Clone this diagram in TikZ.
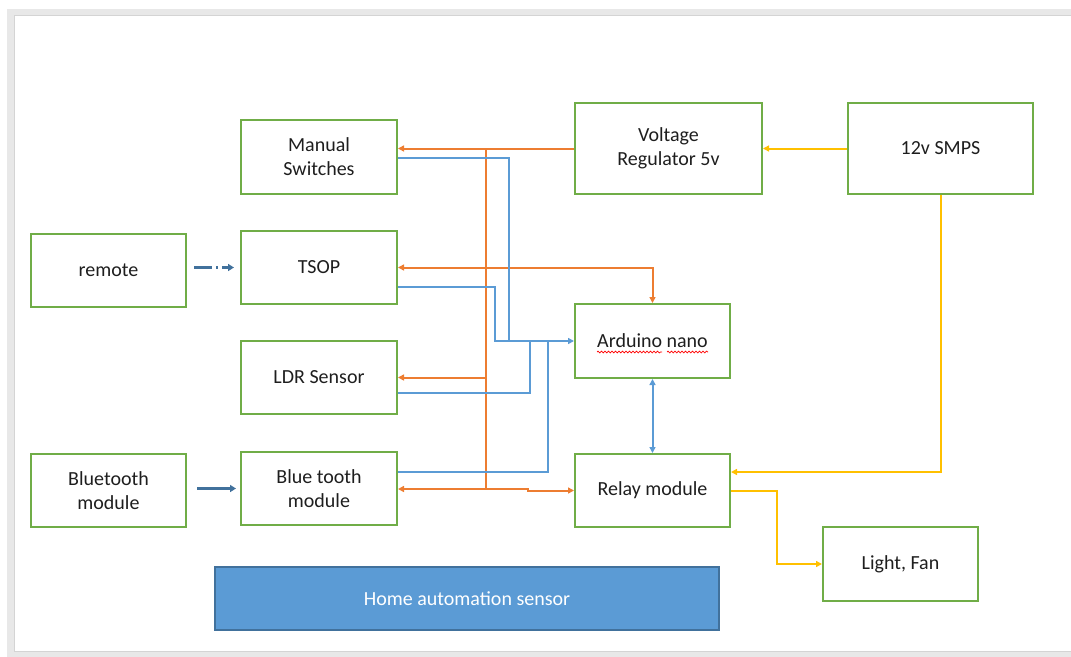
\documentclass[tikz,border=0pt]{standalone}
\usepackage{fontspec}
\setmainfont{Carlito}
\usetikzlibrary{arrows.meta,decorations.pathmorphing}
\definecolor{grn}{HTML}{70AD47}
\definecolor{org}{HTML}{ED7D31}
\definecolor{blu}{HTML}{5B9BD5}
\definecolor{ylw}{HTML}{FFC000}
\definecolor{dblu}{HTML}{41719C}
\definecolor{txt}{HTML}{1E1E1E}
\definecolor{frmA}{HTML}{E8E8E8}
\definecolor{frmB}{HTML}{D4D4D4}
\begin{document}
\begin{tikzpicture}[x=1pt,y=-1pt,
  box/.style={draw=grn,line width=2pt,inner sep=0pt,align=center,text=txt,
    font=\fontsize{20}{24}\selectfont},
  tipo/.style={-{Triangle[length=6pt,width=6pt]}},
  orw/.style={draw=org,line width=2pt},
  blw/.style={draw=blu,line width=2pt},
  ylw/.style={draw=ylw,line width=2pt},
  thick arr/.style={draw=dblu,line width=3pt,-{Triangle[length=6pt,width=7pt]}},
  spell/.style={draw=red,line width=0.7pt,decorate,decoration={snake,amplitude=0.9pt,segment length=3.5pt}}]
\useasboundingbox (0,0) rectangle (1071,656);
% frame
\draw[frmA,line width=7pt] (10.5,12) rectangle (1100,654);
\draw[frmB,line width=1pt] (14,15) rectangle (1100,651);
% boxes
\node[box,minimum width=156pt,minimum height=74pt] (man) at (319,157) {Manual\\Switches};
\node[box,minimum width=187pt,minimum height=91pt] (vr) at (668.5,148.5) {Voltage\\Regulator 5v};
\node[box,minimum width=185pt,minimum height=91pt] (smps) at (940.5,148.5) {12v SMPS};
\node[box,minimum width=155pt,minimum height=73pt] (remote) at (108.5,270.5) {remote};
\node[box,minimum width=156pt,minimum height=73pt] (tsop) at (319,267.5) {TSOP};
\node[box,minimum width=155pt,minimum height=74pt] (ard) at (652.5,341) {Arduino nano};
\node[box,minimum width=156pt,minimum height=73pt] (ldr) at (319,377.5) {LDR Sensor};
\node[box,minimum width=155pt,minimum height=73pt] (btl) at (108.5,490.5) {Bluetooth\\module};
\node[box,minimum width=156pt,minimum height=73pt] (bt) at (319,488.5) {Blue tooth\\module};
\node[box,minimum width=155pt,minimum height=73pt] (relay) at (652.5,490.5) {Relay module};
\node[box,minimum width=155pt,minimum height=74pt] (lf) at (900.5,564) {Light, Fan};
\node[draw=dblu,fill=blu,line width=1.2pt,minimum width=504pt,minimum height=63pt,
  text=white,font=\fontsize{20}{24}\selectfont] (home) at (467,598.5) {Home automation sensor};
% spell-check underline
\draw[spell] (597,352) -- (662,352);
\draw[spell] (667,352) -- (708,352);
% helper coordinates
\coordinate (ot) at (486,149);
\coordinate (ob) at (486,489);
\coordinate (ostep) at (528,489);
\coordinate (y158) at (0,158);
\coordinate (y287) at (0,287);
\coordinate (y393) at (0,393);
\coordinate (y472) at (0,472);
\coordinate (y341) at (0,341);
\coordinate (xa) at (509,0);
\coordinate (xb) at (495,0);
\coordinate (xc) at (530,0);
\coordinate (xd) at (548,0);
% orange connectors
\draw[orw,tipo] (vr.west) -- (man.east |- vr.west);
\draw[orw] (ot) -- (ob);
\draw[orw,{Triangle[length=6pt,width=6pt]}-{Triangle[length=6pt,width=6pt]}] (tsop.east) -| (ard.north);
\draw[orw,tipo] (ot |- ldr.east) -- (ldr.east);
\draw[orw,tipo] (ob) -- (bt.east |- ob);
\draw[orw,tipo] (ob) -- (ostep) -- (ostep |- relay.west) -- (relay.west);
% blue connectors
\draw[blw,tipo] (man.east |- y158) -- (xa |- y158) -- (xa |- y341) -- (ard.west);
\draw[blw] (tsop.east |- y287) -- (xb |- y287) -- (xb |- y341) -- (xa |- y341);
\draw[blw] (ldr.east |- y393) -- (xc |- y393) -- (xc |- y341);
\draw[blw] (bt.east |- y472) -- (xd |- y472) -- (xd |- y341);
\draw[blw,{Triangle[length=6pt,width=6pt]}-{Triangle[length=6pt,width=6pt]}] (ard.south) -- (relay.north);
% yellow connectors
\draw[ylw,tipo] (smps.west) -- (vr.east);
\draw[ylw,tipo] (smps.south) |- (relay.east |- y472);
\draw[ylw,tipo] (relay.east) -- ++(46,0) |- (lf.west);
% input arrows
\draw[thick arr,dash pattern=on 18pt off 4pt on 2pt off 4pt,shorten <=7pt,shorten >=6pt]
  (remote.east |- tsop.west) -- (tsop.west);
\draw[thick arr,shorten <=10pt,shorten >=4pt] (btl.east |- bt.west) -- (bt.west);
\end{tikzpicture}
\end{document}
